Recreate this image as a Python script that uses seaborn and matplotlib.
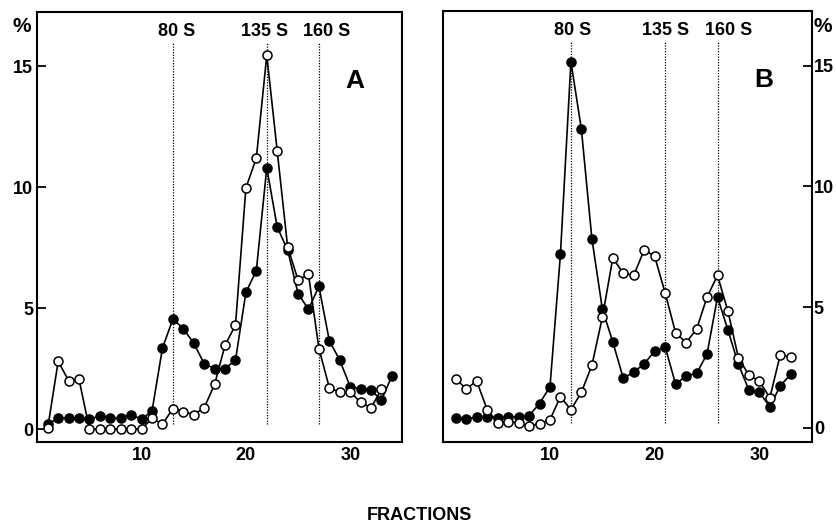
import numpy as np
import pandas as pd
import matplotlib
matplotlib.use("Agg")
import matplotlib.pyplot as plt
from matplotlib.ticker import FixedLocator
import seaborn as sns

# ---------------- data ----------------
frac_a_filled = list(range(1, 35))
a_filled = [0.2, 0.45, 0.45, 0.45, 0.4, 0.55, 0.45, 0.45, 0.6, 0.4,
            0.75, 3.35, 4.55, 4.15, 3.55, 2.7, 2.5, 2.5, 2.85, 5.65,
            6.55, 10.8, 8.35, 7.4, 5.6, 4.95, 5.9, 3.65, 2.85, 1.75,
            1.65, 1.6, 1.2, 2.2]
frac_a_open = list(range(1, 34))
a_open = [0.05, 2.8, 2.0, 2.05, 0.0, 0.0, 0.0, 0.0, 0.0, 0.0,
          0.45, 0.2, 0.85, 0.72, 0.6, 0.88, 1.85, 3.47, 4.3, 9.97,
          11.2, 15.45, 11.5, 7.53, 6.16, 6.39, 3.33, 1.71, 1.52, 1.54,
          1.1, 0.88, 1.65]

frac_b = list(range(1, 34))
b_filled = [0.4, 0.35, 0.45, 0.45, 0.4, 0.45, 0.45, 0.5, 1.0, 1.7,
            7.2, 15.17, 12.36, 7.84, 4.92, 3.55, 2.05, 2.3, 2.65, 3.17,
            3.35, 1.8, 2.15, 2.25, 3.05, 5.41, 4.04, 2.62, 1.56, 1.46,
            0.87, 1.74, 2.21]
b_open = [2.02, 1.61, 1.93, 0.74, 0.21, 0.25, 0.2, 0.07, 0.17, 0.33,
          1.29, 0.74, 1.47, 2.58, 4.57, 7.03, 6.4, 6.31, 7.37, 7.1,
          5.58, 3.93, 3.53, 4.08, 5.41, 6.31, 4.82, 2.89, 2.18, 1.93,
          1.24, 3.03, 2.93]

marker_labels = ["80 S", "135 S", "160 S"]
a_marker_frac = [13, 22, 27]
b_marker_frac = [12, 21, 26]

x_ticks = [10, 20, 30]
y_ticks = [0, 5, 10, 15]
y_tick_labels = ["0", "5", "10", "15"]

# ---------------- style ----------------
sns.set_style("white")
plt.rcParams["font.family"] = ["Liberation Sans", "DejaVu Sans"]
plt.rcParams["font.weight"] = "bold"
plt.rcParams["text.color"] = "black"
plt.rcParams["axes.labelcolor"] = "black"
plt.rcParams["xtick.color"] = "black"
plt.rcParams["ytick.color"] = "black"

fig = plt.figure(figsize=(8.37, 5.23), dpi=100)
axA = fig.add_axes([0.0446, 0.1555, 0.4361, 0.8221])
axB = fig.add_axes([0.5289, 0.1555, 0.4409, 0.8240])

line_kw = dict(color="black", linewidth=1.2, marker="o", markersize=6.5,
               markeredgecolor="black", markeredgewidth=1.1)


def draw(ax, xf, yf, xo, yo):
    sns.lineplot(x=xf, y=yf, ax=ax, markerfacecolor="black", zorder=3,
                 **line_kw)
    sns.lineplot(x=xo, y=yo, ax=ax, markerfacecolor="white", zorder=4,
                 **line_kw)


draw(axA, frac_a_filled, a_filled, frac_a_open, a_open)
draw(axB, frac_b, b_filled, frac_b, b_open)

label_offsets_a = [0.4, -0.25, 0.75]
label_offsets_b = [0.2, 0.0, 1.1]

for ax, fr, offs in [(axA, a_marker_frac, label_offsets_a),
                     (axB, b_marker_frac, label_offsets_b)]:
    for f, lab, o in zip(fr, marker_labels, offs):
        ax.plot([f, f], [0.2, 16.0], linestyle=(0, (1, 1.2)), color="black",
                linewidth=0.9, zorder=2)
        ax.text(f + o, 16.45, lab, ha="center", va="center", fontsize=13,
                fontweight="bold", color="black")

axA.set_xlim(0, 35)
axA.set_ylim(-0.52, 17.25)
axB.set_xlim(-0.25, 35)
axB.set_ylim(-0.58, 17.28)

for ax in (axA, axB):
    ax.set_xticks(x_ticks)
    ax.set_xticklabels([str(t) for t in x_ticks])
    ax.set_yticks(y_ticks)
    ax.set_yticklabels(y_tick_labels)
    ax.set_xlabel("")
    ax.set_ylabel("")
    for s in ax.spines.values():
        s.set_linewidth(1.5)
        s.set_color("black")
    ax.tick_params(axis="both", direction="in", length=6.5, width=1.3,
                   labelsize=13, colors="black")
    ax.tick_params(axis="x", pad=3.5)
    for lab in ax.get_xticklabels() + ax.get_yticklabels():
        lab.set_fontweight("bold")

axA.tick_params(axis="y", left=True, right=False, labelleft=True,
                labelright=False, pad=3)
axB.tick_params(axis="y", which="major", left=False, right=True,
                labelleft=False, labelright=True, pad=1.5)
axB.yaxis.set_minor_locator(FixedLocator([0]))
axB.tick_params(axis="y", which="minor", left=True, right=False,
                direction="in", length=6.5, width=1.3, labelleft=False,
                labelright=False)

axA.text(30.4, 14.4, "A", fontsize=19, fontweight="bold", ha="center",
         va="center", color="black")
axB.text(30.4, 14.4, "B", fontsize=19, fontweight="bold", ha="center",
         va="center", color="black")

fig.text(22 / 837, 1 - 27 / 523, "%", fontsize=15, fontweight="bold",
         ha="center", va="center")
fig.text(823 / 837, 1 - 26 / 523, "%", fontsize=15, fontweight="bold",
         ha="center", va="center")
fig.text(419 / 837, 1 - 516 / 523, "FRACTIONS", fontsize=13,
         fontweight="bold", ha="center", va="center")

fig.savefig("out.png", dpi=100)
